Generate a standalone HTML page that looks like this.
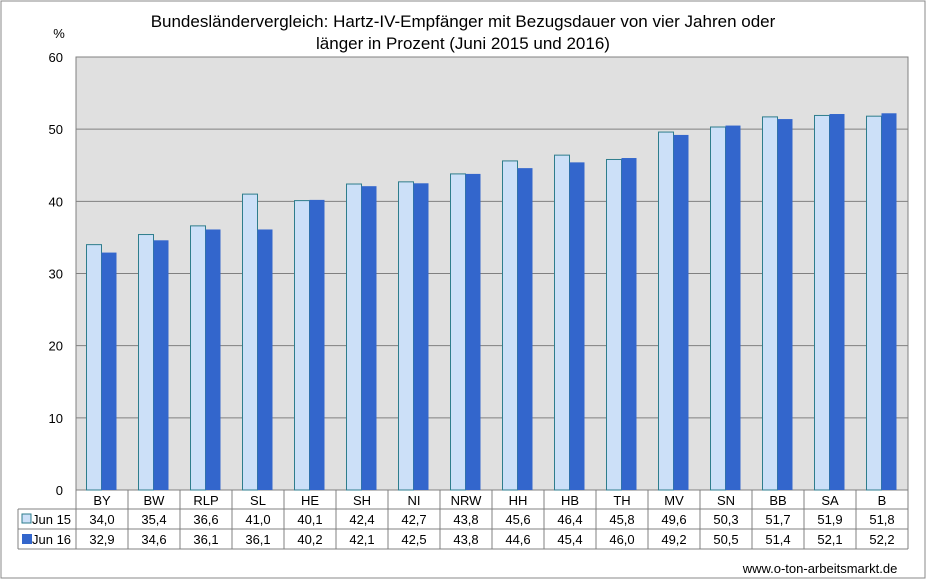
<!DOCTYPE html>
<html><head><meta charset="utf-8"><style>
body{margin:0;background:#fff;font-family:"Liberation Sans",sans-serif}
svg{display:block}
</style></head><body>
<svg width="927" height="580" id="c">
<rect x="1" y="1" width="924" height="577" fill="#fff" stroke="#888"/>
<text x="463" y="27" text-anchor="middle" font-size="17">Bundesländervergleich: Hartz-IV-Empfänger mit Bezugsdauer von vier Jahren oder</text>
<text x="463" y="49" text-anchor="middle" font-size="17">länger in Prozent (Juni 2015 und 2016)</text>
<text x="59" y="38" text-anchor="middle" font-size="13">%</text>
<text x="820" y="573" text-anchor="middle" font-size="13">www.o-ton-arbeitsmarkt.de</text>
<g id="g"></g>
</svg>
<script>
const categories=["BY","BW","RLP","SL","HE","SH","NI","NRW","HH","HB","TH","MV","SN","BB","SA","B"];
const jun15=[34.0,35.4,36.6,41.0,40.1,42.4,42.7,43.8,45.6,46.4,45.8,49.6,50.3,51.7,51.9,51.8];
const jun16=[32.9,34.6,36.1,36.1,40.2,42.1,42.5,43.8,44.6,45.4,46.0,49.2,50.5,51.4,52.1,52.2];
const ticks=[0,10,20,30,40,50,60];
const NS="http://www.w3.org/2000/svg",g=document.getElementById('g');
const X0=76,X1=908,Y0=490,Y1=57,cw=(X1-X0)/categories.length;
const y=v=>Y0-(v/60)*(Y0-Y1);
function el(t,a,txt){const e=document.createElementNS(NS,t);for(const k in a)e.setAttribute(k,a[k]);if(txt!=null)e.textContent=txt;g.appendChild(e);return e;}
let e=el('rect',{x:X0,y:Y1,width:X1-X0,height:Y0-Y1,fill:'#e0e0e0',stroke:'#808080'});


ticks.forEach(t=>{
 let l=el('line',{x1:X0,x2:X1,y1:y(t),y2:y(t),stroke:'#808080'});
 
 
 let tx=el('text',{x:X0-13,y:y(t)+5,'text-anchor':'end','font-size':13},String(t));
 
 
});
const bw=15;
categories.forEach((c,i)=>{
 const cx=X0+cw*i+cw/2;
 let b=el('rect',{x:cx-bw-0.5,y:y(jun15[i]),width:bw,height:Y0-y(jun15[i]),fill:'#cce0f8',stroke:'#2e7d8c','stroke-width':1});
 
 
 let b2=el('rect',{x:cx-0.5,y:y(jun16[i]),width:bw,height:Y0-y(jun16[i]),fill:'#3366cc'});
 
 
 let t=el('text',{x:cx,y:505,'text-anchor':'middle','font-size':13},c);
 
 
 let t1=el('text',{x:cx,y:524,'text-anchor':'middle','font-size':13},jun15[i].toFixed(1).replace('.',','));
 
 
 let t2=el('text',{x:cx,y:544,'text-anchor':'middle','font-size':13},jun16[i].toFixed(1).replace('.',','));
 
 
});
// table grid
const tg=[[X0,490,X0,549],[18,509,18,549],[18,509,X1,509],[18,529,X1,529],[18,549,X1,549],[X1,490,X1,549]];
for(let i=1;i<categories.length;i++)tg.push([X0+cw*i,490,X0+cw*i,549]);
tg.forEach(a=>{let l=el('line',{x1:a[0],y1:a[1],x2:a[2],y2:a[3],stroke:'#808080'});
 
 });
let k1=el('rect',{x:22,y:514,width:9,height:9,fill:'#cce0f8',stroke:'#2e7d8c'});


let l1=el('text',{x:32,y:524,'font-size':13},'Jun 15');


let k2=el('rect',{x:22,y:534,width:10,height:10,fill:'#3366cc'});


let l2=el('text',{x:32,y:544,'font-size':13},'Jun 16');


</script>
</body></html>
